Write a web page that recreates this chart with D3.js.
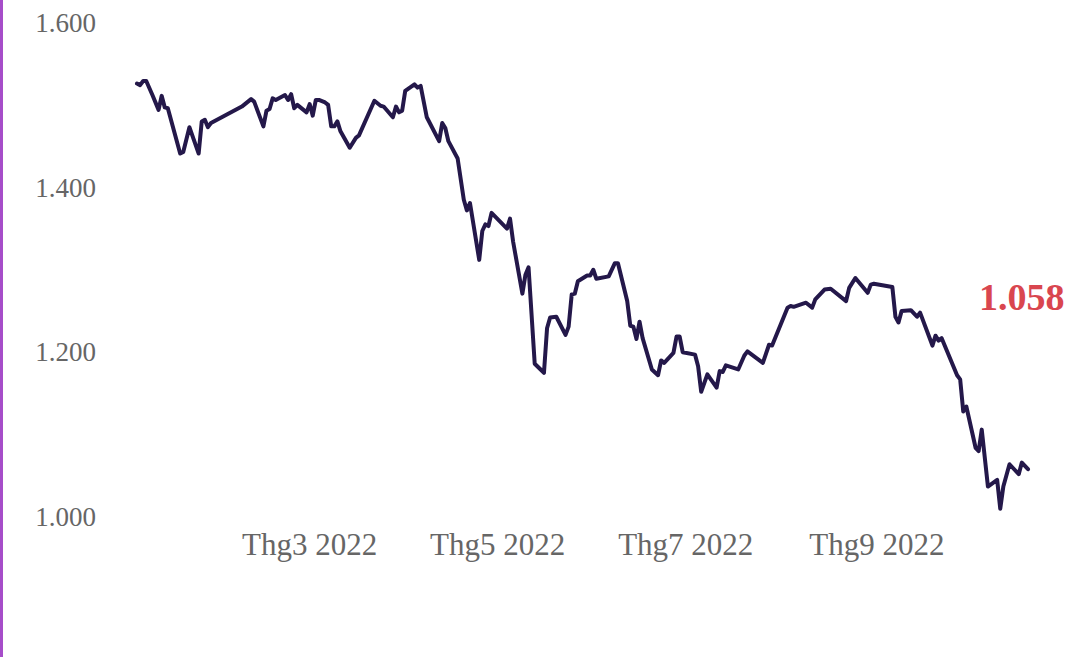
<!DOCTYPE html>
<html lang="vi">
<head>
<meta charset="UTF-8" />
<title>VN-Index 2022</title>
<script src="https://d3js.org/d3.v7.min.js"></script>
<style>
  html, body { margin: 0; padding: 0; background: #fff; }
  body { width: 1071px; height: 657px; overflow: hidden; }
  #chart { display: block; }
  .tick-label { font-family: "Liberation Serif", "Times New Roman", serif; fill: #666; }
</style>
</head>
<body>
<svg id="chart"></svg>
<script>
// closing values (points)
const dates = [
  "2022-01-04","2022-01-05","2022-01-06","2022-01-07","2022-01-09","2022-01-11","2022-01-12","2022-01-13","2022-01-14","2022-01-18",
  "2022-01-19","2022-01-21","2022-01-24","2022-01-25","2022-01-26","2022-01-27","2022-01-28","2022-02-07","2022-02-10","2022-02-11",
  "2022-02-14","2022-02-15","2022-02-16","2022-02-17","2022-02-18","2022-02-21","2022-02-22","2022-02-23","2022-02-24","2022-02-25",
  "2022-02-28","2022-03-01","2022-03-02","2022-03-03","2022-03-04","2022-03-06","2022-03-07","2022-03-08","2022-03-09","2022-03-10",
  "2022-03-11","2022-03-14","2022-03-16","2022-03-17","2022-03-22","2022-03-24","2022-03-25","2022-03-28","2022-03-29","2022-03-30",
  "2022-03-31","2022-04-01","2022-04-04","2022-04-05","2022-04-06","2022-04-08","2022-04-12","2022-04-13","2022-04-14","2022-04-15",
  "2022-04-18","2022-04-20","2022-04-21","2022-04-22","2022-04-25","2022-04-26","2022-04-27","2022-04-28","2022-04-29","2022-05-04",
  "2022-05-05","2022-05-06","2022-05-09","2022-05-10","2022-05-11","2022-05-13","2022-05-16","2022-05-17","2022-05-18","2022-05-20",
  "2022-05-23","2022-05-24","2022-05-25","2022-05-26","2022-05-27","2022-05-30","2022-05-31","2022-06-01","2022-06-02","2022-06-06",
  "2022-06-08","2022-06-09","2022-06-12","2022-06-13","2022-06-14","2022-06-15","2022-06-16","2022-06-17","2022-06-20","2022-06-22",
  "2022-06-23","2022-06-24","2022-06-27","2022-06-28","2022-06-29","2022-06-30","2022-07-04","2022-07-05","2022-07-06","2022-07-08",
  "2022-07-11","2022-07-12","2022-07-13","2022-07-14","2022-07-18","2022-07-20","2022-07-21","2022-07-26","2022-07-28","2022-07-29",
  "2022-08-03","2022-08-04","2022-08-05","2022-08-09","2022-08-11","2022-08-12","2022-08-15","2022-08-17","2022-08-22","2022-08-23",
  "2022-08-25","2022-08-29","2022-08-30","2022-08-31","2022-09-06","2022-09-07","2022-09-08","2022-09-09","2022-09-12","2022-09-14",
  "2022-09-15","2022-09-19","2022-09-20","2022-09-21","2022-09-22","2022-09-27","2022-09-28","2022-09-29","2022-09-30","2022-10-03",
  "2022-10-04","2022-10-05","2022-10-07","2022-10-10","2022-10-11","2022-10-12","2022-10-14","2022-10-17","2022-10-18","2022-10-20"
];
const values = [
  1526,1524,1529,1529,1512,1494,1511,1497,1496,1441,
  1443,1473,1441,1480,1482,1473,1478,1498,1507,1504,
  1474,1493,1495,1508,1506,1512,1506,1513,1496,1500,
  1491,1501,1487,1506,1506,1503,1500,1474,1474,1480,
  1468,1448,1460,1463,1505,1499,1498,1485,1498,1491,
  1493,1517,1525,1521,1523,1485,1456,1478,1472,1456,
  1435,1385,1372,1381,1312,1347,1355,1353,1369,1350,
  1362,1334,1271,1294,1303,1186,1175,1229,1242,1243,
  1221,1231,1270,1271,1286,1293,1293,1300,1289,1292,
  1308,1308,1262,1232,1231,1216,1237,1217,1179,1172,
  1190,1187,1199,1219,1219,1200,1197,1183,1152,1173,
  1157,1177,1176,1184,1179,1196,1201,1187,1209,1208,
  1254,1256,1255,1260,1254,1264,1276,1277,1262,1278,
  1290,1272,1282,1283,1279,1243,1236,1250,1251,1243,
  1248,1208,1220,1214,1217,1172,1167,1128,1134,1084,
  1080,1106,1037,1045,1010,1037,1064,1052,1066,1058
];
const yTicks = [1000, 1200, 1400, 1600];
const xTicks = ["2022-03-01", "2022-05-01", "2022-07-01", "2022-09-01"];

const W = 1071, H = 657;
const margin = { top: 22.5, right: 43, bottom: 140, left: 137 };

const parse = d3.timeParse("%Y-%m-%d");
const series = dates.map((d, i) => ({ date: parse(d), value: values[i] }));

const vn = d3.formatLocale({ decimal: ",", thousands: ".", grouping: [3], currency: ["", " ₫"] });
const fmt = vn.format(",d");
const monthLabel = d => `Thg${d.getMonth() + 1} ${d.getFullYear()}`;

const svg = d3.select("#chart").attr("width", W).attr("height", H);

// purple edge on the left
svg.append("rect")
  .attr("x", 0).attr("y", 0)
  .attr("width", 3).attr("height", H)
  .attr("fill", "#a64dc9");

const x = d3.scaleTime()
  .domain(d3.extent(series, d => d.date))
  .range([margin.left, W - margin.right]);
const y = d3.scaleLinear()
  .domain([1000, 1600])
  .range([517, margin.top]);

// y tick labels
svg.append("g")
  .selectAll("text")
  .data(yTicks)
  .join("text")
  .attr("class", "tick-label")
  .attr("x", 96)
  .attr("y", d => y(d))
  .attr("dy", "0.34em")
  .attr("text-anchor", "end")
  .style("font-size", "27px")
  .text(fmt);

// x tick labels
svg.append("g")
  .selectAll("text")
  .data(xTicks.map(parse))
  .join("text")
  .attr("class", "tick-label")
  .attr("x", d => x(d))
  .attr("y", 555)
  .attr("text-anchor", "middle")
  .style("font-size", "31px")
  .text(monthLabel);

const line = d3.line()
  .x(d => x(d.date))
  .y(d => y(d.value));

svg.append("path")
  .datum(series)
  .attr("fill", "none")
  .attr("stroke", "#24184a")
  .attr("stroke-width", 4)
  .attr("stroke-linejoin", "round")
  .attr("stroke-linecap", "round")
  .attr("d", line);

// last value callout
const last = series[series.length - 1];
svg.append("text")
  .attr("x", 979)
  .attr("y", 310)
  .attr("font-family", "'Liberation Serif', 'Times New Roman', serif")
  .attr("font-weight", "bold")
  .attr("font-size", "38px")
  .attr("fill", "#d9464f")
  .text(fmt(last.value));
</script>
</body>
</html>
